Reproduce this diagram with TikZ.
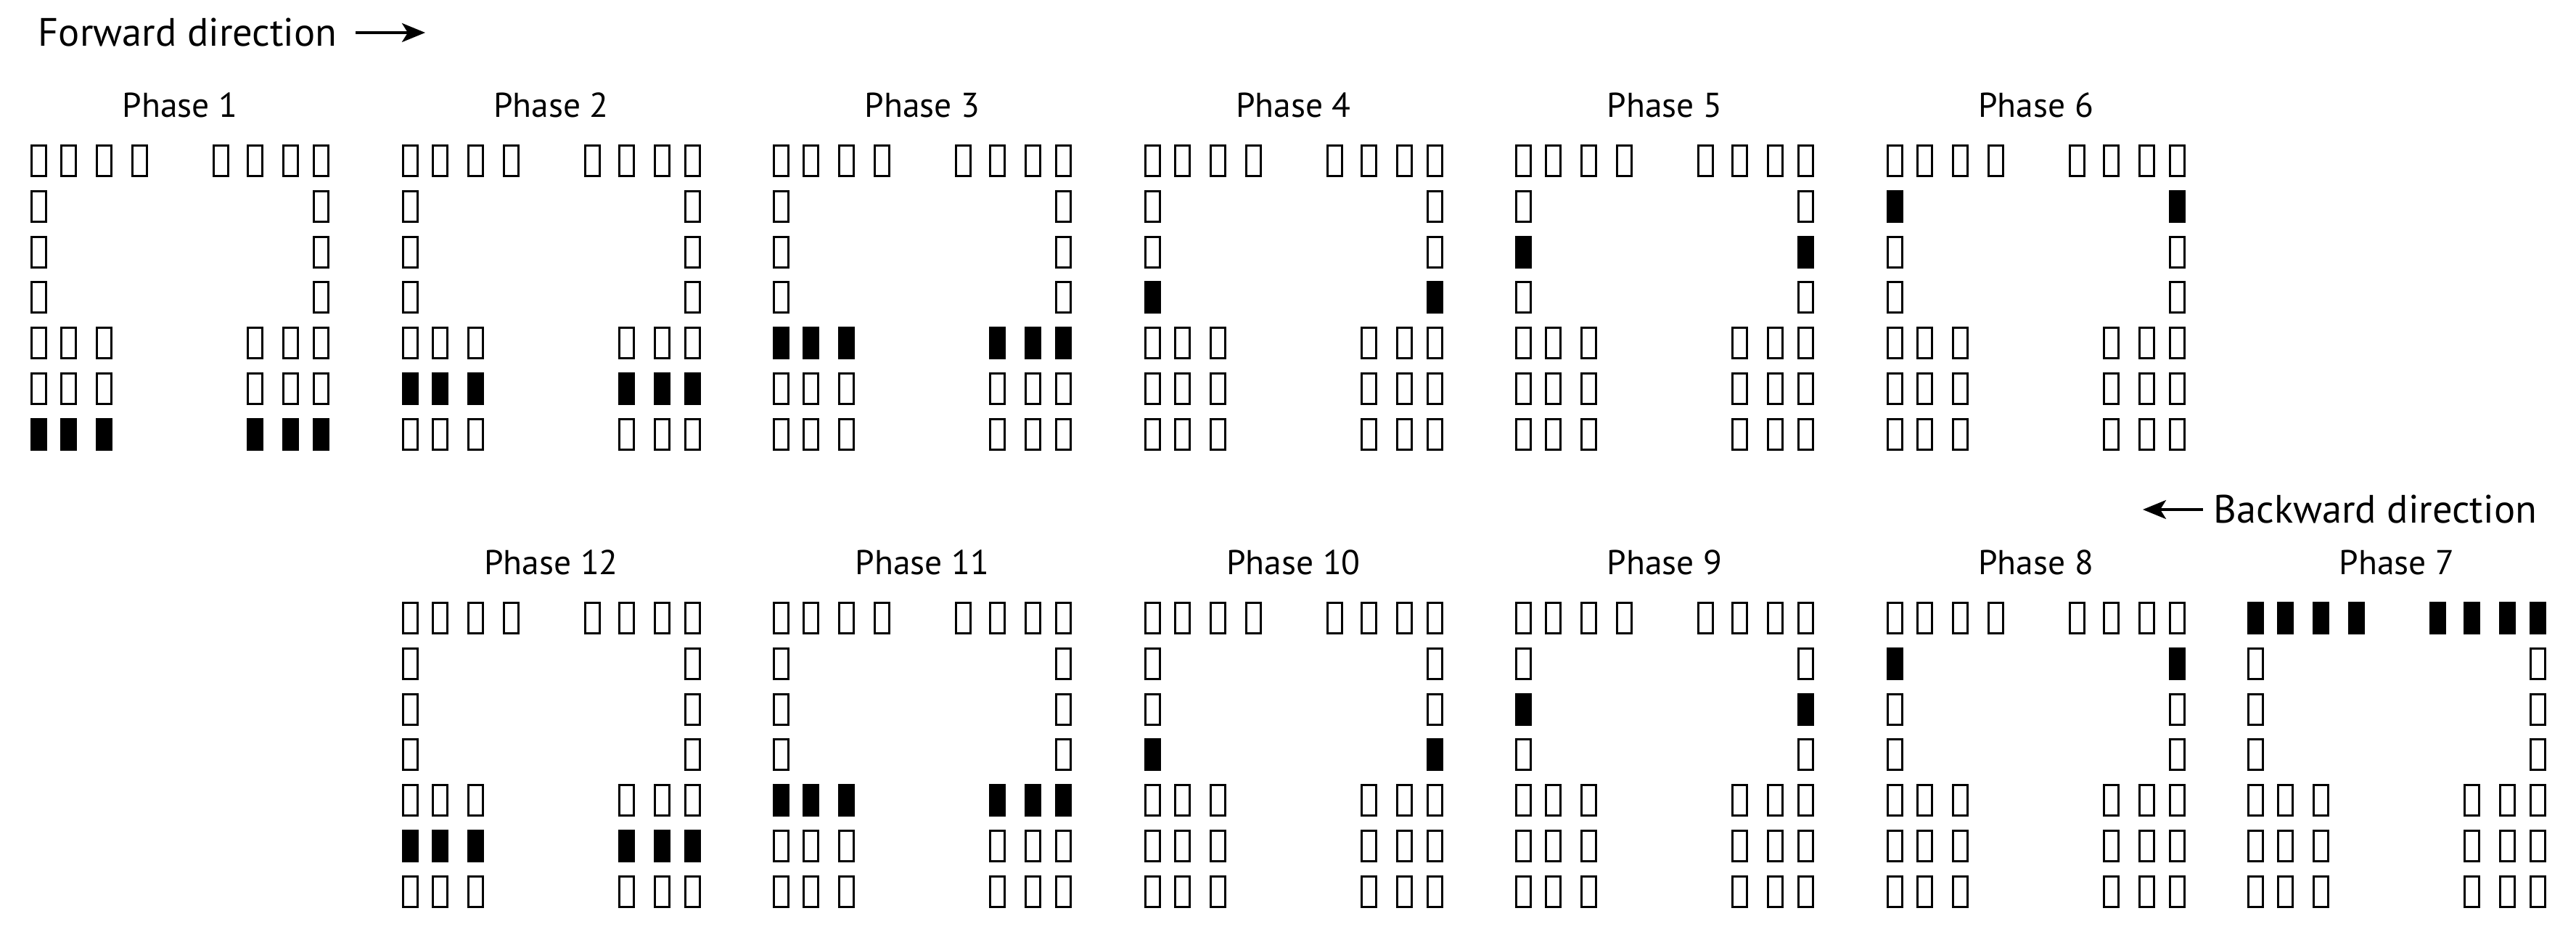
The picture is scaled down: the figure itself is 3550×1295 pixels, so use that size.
\documentclass[tikz,border=0pt]{standalone}
\usepackage{fontspec}
\setmainfont{PT Sans}
\usetikzlibrary{arrows.meta}
\tikzset{
  cell/.style={draw=black,line width=0.03cm},
  lab/.style={font=\fontsize{13.5}{14}\selectfont,inner sep=0pt},
  dirlab/.style={font=\fontsize{15.5}{16}\selectfont,inner sep=0pt},
  dirarrow/.style={-{Stealth[length=0.32cm,width=0.26cm,inset=0.08cm]},line width=0.035cm}
}
\newcommand{\mybox}[3]{% x y filled
  \ifnum#3=1
    \fill ({#1},{-(#2)}) rectangle ({#1+23},{-(#2)-45});
  \else
    \draw[cell] ({#1+1.5},{-(#2)-1.5}) rectangle ({#1+21.5},{-(#2)-43.5});
  \fi}
% #1 base x, #2 base y, #3 filled row, #4 label
\newcommand{\panel}[4]{%
  \node[lab] (lbl#4) at ({#1+206},{-(#2)+54}) {Phase #4};
  \foreach \c in {0,41,90,139,251,298,347,389}{%
    \pgfmathtruncatemacro{\f}{#3==0?1:0}%
    \mybox{#1+\c}{#2}{\f}}
  \foreach \r/\yy in {1/63,2/126,3/188}{%
    \pgfmathtruncatemacro{\f}{#3==\r?1:0}%
    \foreach \c in {0,389}{\mybox{#1+\c}{#2+\yy}{\f}}}
  \foreach \r/\yy in {4/251,5/314,6/377}{%
    \pgfmathtruncatemacro{\f}{#3==\r?1:0}%
    \foreach \c in {0,41,90,298,347,389}{\mybox{#1+\c}{#2+\yy}{\f}}}
}
\begin{document}
\begin{tikzpicture}[x=0.01cm,y=0.01cm]
\useasboundingbox (0,0) rectangle (3550,-1295);
\node[dirlab,anchor=west] (fw) at (52,-45) {Forward direction};
\coordinate (fwa) at (490,-45);
\coordinate (fwb) at (586,-45);
\draw[dirarrow] (fwa) -- (fwb);
\node[dirlab,anchor=west] (bw) at (3050,-702) {Backward direction};
\coordinate (bwa) at (3036,-702);
\coordinate (bwb) at (2953,-702);
\draw[dirarrow] (bwa) -- (bwb);
\panel{42}{199}{6}{1}
\panel{553.5}{199}{5}{2}
\panel{1065}{199}{4}{3}
\panel{1576.5}{199}{3}{4}
\panel{2088}{199}{2}{5}
\panel{2599.5}{199}{1}{6}
\panel{553.5}{829}{5}{12}
\panel{1065}{829}{4}{11}
\panel{1576.5}{829}{3}{10}
\panel{2088}{829}{2}{9}
\panel{2599.5}{829}{1}{8}
\panel{3097}{829}{0}{7}
\end{tikzpicture}
\end{document}
